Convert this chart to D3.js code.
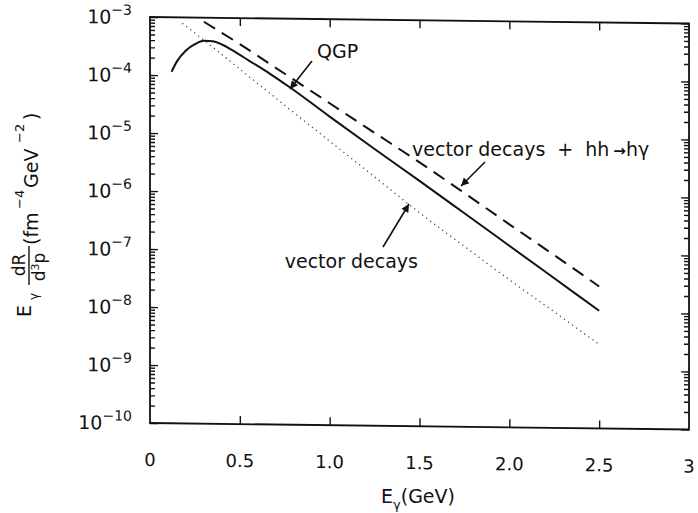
<!DOCTYPE html>
<html><head><meta charset="utf-8">
<script src="https://cdn.jsdelivr.net/npm/d3@7"></script>
<style>
body{margin:0;background:#fff}
svg{display:block}
text{font-family:"DejaVu Sans",Arial,sans-serif;fill:#111}
</style>
</head><body>
<svg id="chart" width="698" height="513"></svg>
<script>
// ---------- data ----------
const xTickValues = [0, 0.5, 1.0, 1.5, 2.0, 2.5, 3];
const xTickLabels = ["0", "0.5", "1.0", "1.5", "2.0", "2.5", "3"];
const yDecadeExponents = [-3, -4, -5, -6, -7, -8, -9, -10];

// QGP (solid)
const qgpE = [0.12, 0.15, 0.2, 0.25, 0.3, 0.35, 0.4, 0.45, 0.55, 0.67, 0.78, 1.0, 1.25, 1.5, 1.75, 2.0, 2.25, 2.5];
const qgpRate = [1.15e-4, 1.74e-4, 2.69e-4, 3.47e-4, 3.98e-4, 3.94e-4, 3.47e-4, 2.88e-4, 1.86e-4, 1.10e-4, 6.5e-5, 2.09e-5, 5.9e-6, 1.70e-6, 4.8e-7, 1.35e-7, 3.8e-8, 1.07e-8];

// vector decays + hh -> h gamma (dashed)
const totalE = [0.3, 0.5, 0.75, 1.0, 1.25, 1.5, 1.75, 2.0, 2.25, 2.5];
const totalRate = [8.5e-4, 3.55e-4, 1.12e-4, 3.55e-5, 1.12e-5, 3.55e-6, 1.07e-6, 3.16e-7, 9.5e-8, 2.8e-8];

// vector decays (dotted)
const vectorE = [0.18, 0.3, 0.5, 0.75, 1.0, 1.25, 1.5, 1.75, 2.0, 2.25, 2.5];
const vectorRate = [7.9e-4, 4.1e-4, 1.32e-4, 3.2e-5, 7.9e-6, 1.95e-6, 4.8e-7, 1.29e-7, 3.5e-8, 1.0e-8, 2.8e-9];

const annotationTexts = ["QGP", "vector decays", "+", "hh", "\u2192", "h\u03b3"];

// ---------- layout ----------
const W = 539, H = 406;
const svg = d3.select("#chart");
const root = svg.append("g").attr("transform", "translate(150,17) skewY(0.69)");

const x = d3.scaleLinear().domain([0, 3]).range([0, W]);
const y = d3.scaleLog().domain([1e-10, 1e-3]).range([H, 0]);

const ink = "#111";

root.append("rect").attr("x", 0).attr("y", 0).attr("width", W).attr("height", H)
  .attr("fill", "none").attr("stroke", ink).attr("stroke-width", 1.8);

const minorVals = [];
for (let e = -10; e < -3; e++) for (let m = 2; m <= 9; m++) minorVals.push(m * Math.pow(10, e));
const majorVals = yDecadeExponents.map(e => Math.pow(10, e));

root.append("g").call(d3.axisRight(y).tickValues(majorVals).tickSize(8).tickFormat(""));
root.append("g").call(d3.axisRight(y).tickValues(minorVals).tickSize(5).tickFormat(""));
root.append("g").attr("transform", `translate(${W},0)`).call(d3.axisLeft(y).tickValues(majorVals).tickSize(8).tickFormat(""));
root.append("g").attr("transform", `translate(${W},0)`).call(d3.axisLeft(y).tickValues(minorVals).tickSize(5).tickFormat(""));
const innerX = xTickValues.slice(1, -1);
root.append("g").attr("transform", `translate(0,${H})`).call(d3.axisTop(x).tickValues(innerX).tickSize(8).tickFormat(""));
root.append("g").call(d3.axisBottom(x).tickValues(innerX).tickSize(8).tickFormat(""));
root.selectAll(".domain").remove();
root.selectAll(".tick line").attr("stroke", ink).attr("stroke-width", 1.4);

majorVals.forEach((v, i) => {
  const t = root.append("text").attr("x", -18).attr("y", y(v) + 7)
    .attr("text-anchor", "end").style("font-size", "19px");
  t.append("tspan").text("10");
  t.append("tspan").attr("dy", -9).style("font-size", "14px").text("\u2212" + (-yDecadeExponents[i]));
});

root.selectAll(".xl").data(xTickValues).enter().append("text")
  .attr("x", d => x(d)).attr("y", H + 43).attr("text-anchor", "middle")
  .style("font-size", "18px").text((d, i) => xTickLabels[i]);

const line = d3.line().x(d => x(d[0])).y(d => y(d[1])).curve(d3.curveMonotoneX);
root.append("path").datum(qgpE.map((e, i) => [e, qgpRate[i]])).attr("d", line)
  .attr("fill", "none").attr("stroke", ink).attr("stroke-width", 2);
root.append("path").datum(totalE.map((e, i) => [e, totalRate[i]])).attr("d", line)
  .attr("fill", "none").attr("stroke", ink).attr("stroke-width", 2).attr("stroke-dasharray", "13,8");
root.append("path").datum(vectorE.map((e, i) => [e, vectorRate[i]])).attr("d", line)
  .attr("fill", "none").attr("stroke", "#444").attr("stroke-width", 1.3).attr("stroke-dasharray", "1.2,3.8");

svg.append("defs").append("marker").attr("id", "ah").attr("viewBox", "0 0 10 10")
  .attr("refX", 10).attr("refY", 5).attr("markerWidth", 11).attr("markerHeight", 8)
  .attr("markerUnits", "userSpaceOnUse").attr("orient", "auto")
  .append("path").attr("d", "M0,0 L10,5 L0,10 z").attr("fill", ink);

function arrow(x1, y1, x2, y2) {
  svg.append("line").attr("x1", x1).attr("y1", y1).attr("x2", x2).attr("y2", y2)
    .attr("stroke", ink).attr("stroke-width", 1.6).attr("marker-end", "url(#ah)");
}
svg.append("text").attr("x", 317).attr("y", 58).style("font-size", "19px").text(annotationTexts[0]);
arrow(312, 61, 290, 89);

const up = svg.append("text").attr("x", 412).attr("y", 156).style("font-size", "19px");
up.append("tspan").text(annotationTexts[1]);
up.append("tspan").attr("dx", 12).text(annotationTexts[2]);
up.append("tspan").attr("dx", 12).text(annotationTexts[3]);
up.append("tspan").attr("dx", 4).style("font-size", "15px").style("font-weight", "bold").text(annotationTexts[4]);
up.append("tspan").text(annotationTexts[5]);
arrow(485, 162, 461, 186);

svg.append("text").attr("x", 418).attr("y", 268).attr("text-anchor", "end").style("font-size", "19px").text(annotationTexts[1]);
arrow(383, 247, 409, 204);

const xt = svg.append("text").attr("x", 418).attr("y", 503).attr("text-anchor", "middle").style("font-size", "19px");
xt.append("tspan").text("E");
xt.append("tspan").attr("dy", 6).style("font-size", "13px").text("\u03b3");
xt.append("tspan").attr("dy", -6).text("(GeV)");

function rtext(xb, ys, str, size, anchor) {
  return svg.append("text").attr("transform", `translate(${xb},${ys}) rotate(-90)`)
    .attr("text-anchor", anchor || "start").style("font-size", size + "px").text(str);
}
rtext(31, 317, "E", 19);
rtext(38, 300, "\u03b3", 12);
rtext(25, 265, "dR", 17, "middle");
svg.append("line").attr("x1", 29).attr("x2", 29).attr("y1", 246).attr("y2", 285).attr("stroke", ink).attr("stroke-width", 1.4);
const dp = svg.append("text").attr("transform", `translate(45,267) rotate(-90)`).attr("text-anchor", "middle").style("font-size", "17px");
dp.append("tspan").text("d");
dp.append("tspan").attr("dy", -6).style("font-size", "11px").text("3");
dp.append("tspan").attr("dy", 6).text("p");
rtext(38, 245, "(fm", 19);
rtext(24, 209, "\u22124", 13);
rtext(38, 188, "GeV", 19);
rtext(24, 143, "\u22122", 13);
rtext(38, 120, ")", 19);
</script>
</body></html>
